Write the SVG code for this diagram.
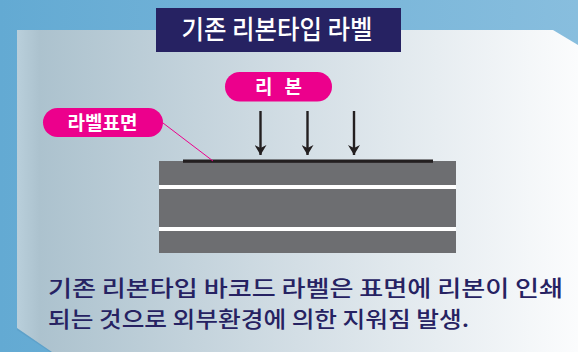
<svg xmlns="http://www.w3.org/2000/svg" width="578" height="352" viewBox="0 0 578 352">
  <defs>
    <linearGradient id="bg" x1="0" y1="0" x2="1" y2="0">
      <stop offset="0" stop-color="#63aad3"/>
      <stop offset="1" stop-color="#88bede"/>
    </linearGradient>
    <linearGradient id="panel" x1="17" y1="0" x2="578" y2="0" gradientUnits="userSpaceOnUse">
      <stop offset="0" stop-color="#b9cfdb"/>
      <stop offset="0.04" stop-color="#acc2ce"/>
      <stop offset="0.5" stop-color="#d3dee5"/>
      <stop offset="1" stop-color="#fbfcfd"/>
    </linearGradient>
    <marker id="arrow" viewBox="0 0 10 12" refX="10" refY="6" markerWidth="10" markerHeight="12" markerUnits="userSpaceOnUse" orient="auto">
      <path d="M0,0 L10,6 L0,12 L3,6 Z" fill="#231f20"/>
    </marker>
    <style>
      .title { font-family: "Noto Sans CJK KR", "Noto Sans", sans-serif; font-size: 26px; font-weight: 500; fill: #ffffff; }
      .pill { fill: #ec008c; }
      .pilltext { font-family: "Noto Sans CJK KR", "Noto Sans", sans-serif; font-size: 19px; font-weight: 700; fill: #ffffff; }
      .body { font-family: "Noto Sans CJK KR", "Noto Sans", sans-serif; font-size: 22px; font-weight: 500; fill: #262262; }
      .arrowline { stroke: #231f20; stroke-width: 2.4; fill: none; }
      .leader { stroke: #ec008c; stroke-width: 1; fill: none; }
      .layer { fill: #6d6e71; }
    </style>
  </defs>

  <!-- background -->
  <rect x="0" y="0" width="578" height="352" fill="url(#bg)"/>
  <polygon points="17,31 553,31 578,47 578,352 50,352 17,330" fill="#4f8fb8" opacity="0.35"/>
  <polygon points="17,30 553,30 578,45 578,352 52,352 17,328" fill="url(#panel)"/>

  <!-- title -->
  <g id="title">
    <rect x="156" y="8" width="245" height="44" fill="#262262"/>
    <text class="title" x="277" y="39" text-anchor="middle" textLength="191" lengthAdjust="spacingAndGlyphs">기존 리본타입 라벨</text>
  </g>

  <!-- label layers -->
  <g id="label-body">
    <rect class="layer" x="159" y="161" width="297" height="24"/>
    <rect x="159" y="185" width="297" height="4" fill="#ffffff"/>
    <rect class="layer" x="159" y="189" width="297" height="38"/>
    <rect x="159" y="227" width="297" height="4" fill="#ffffff"/>
    <rect class="layer" x="159" y="231" width="297" height="22"/>
  </g>
  <g id="ribbon-surface">
    <rect x="183" y="159.5" width="250" height="3.3" fill="#231f20"/>
  </g>

  <!-- ribbon pill -->
  <g id="ribbon">
    <rect class="pill" x="225" y="72" width="107" height="29.5" rx="14.75"/>
    <text class="pilltext" x="278.5" y="94" text-anchor="middle" textLength="47" lengthAdjust="spacing">리 본</text>
  </g>

  <!-- label surface pill -->
  <g id="label-surface">
    <rect class="pill" x="43" y="108" width="120" height="29" rx="14.5"/>
    <text class="pilltext" x="102.5" y="129.5" text-anchor="middle">라벨표면</text>
  </g>

  <!-- connectors -->
  <g id="connectors">
    <line class="leader" x1="163" y1="123" x2="213" y2="161"/>
    <line class="arrowline" x1="260.5" y1="111" x2="260.5" y2="155" marker-end="url(#arrow)"/>
    <line class="arrowline" x1="307.5" y1="111" x2="307.5" y2="155" marker-end="url(#arrow)"/>
    <line class="arrowline" x1="354" y1="111" x2="354" y2="155" marker-end="url(#arrow)"/>
  </g>

  <!-- description -->
  <g id="description">
    <text class="body" x="48" y="296" textLength="515" lengthAdjust="spacingAndGlyphs">기존 리본타입 바코드 라벨은 표면에 리본이 인쇄</text>
    <text class="body" x="48" y="327" textLength="421" lengthAdjust="spacingAndGlyphs">되는 것으로 외부환경에 의한 지워짐 발생.</text>
  </g>
</svg>
